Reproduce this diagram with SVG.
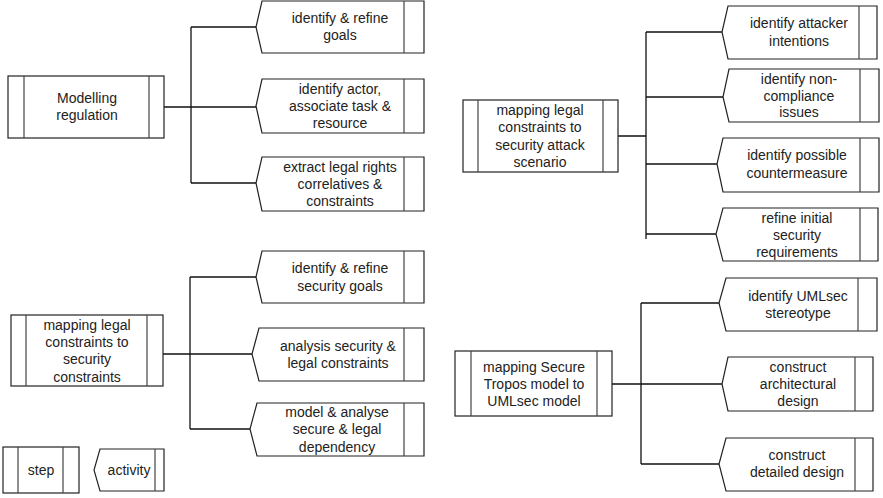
<svg xmlns="http://www.w3.org/2000/svg" width="883" height="498" viewBox="0 0 883 498">
<style>
.box{fill:#fff;stroke:#222;stroke-width:1.2}
.in{stroke:#444;stroke-width:1.2;fill:none}
.con{stroke:#111;stroke-width:1.3;fill:none}
text{font-family:"Liberation Sans",Arial,sans-serif;font-size:14px;fill:#222;text-anchor:middle}
</style>
<rect width="883" height="498" fill="#fff"/>
<g id="connectors">
<path class="con" d="M164,107H256M191,27V183M191,27H256M191,183H256"/>
<path class="con" d="M618,136H646M646,32V239M646,32H723M646,97H723M646,164H717M646,234H716"/>
<path class="con" d="M160,354H252M190,277V429M190,277H256M190,429H250"/>
<path class="con" d="M612,384H722M641,303V464M641,303H719M641,464H719"/>
</g>
<g id="step1"><rect class="box" x="8" y="76" width="156" height="62"/><path class="in" d="M24,76V138M149,76V138"/><text x="87" y="103">Modelling</text><text x="87" y="120">regulation</text></g>
<g id="act1"><path class="box" d="M262,1H424V53H262L256,27Z"/><path class="in" d="M404,1V53"/><text x="340" y="23">identify &amp; refine</text><text x="340" y="40">goals</text></g>
<g id="act2"><path class="box" d="M262,79H424V133H262L256,106Z"/><path class="in" d="M404,79V133"/><text x="340" y="94">identify actor,</text><text x="340" y="111">associate task &amp;</text><text x="340" y="128">resource</text></g>
<g id="act3"><path class="box" d="M262,157H424V211H262L256,183Z"/><path class="in" d="M404,157V211"/><text x="340" y="172">extract legal rights</text><text x="340" y="189">correlatives &amp;</text><text x="340" y="206">constraints</text></g>

<g id="step2"><rect class="box" x="463" y="100" width="155" height="72"/><path class="in" d="M478,100V172M603,100V172"/><text x="540" y="115">mapping legal</text><text x="540" y="132">constraints to</text><text x="540" y="150">security attack</text><text x="540" y="167">scenario</text></g>
<g id="act4"><path class="box" d="M728,6H877V59H728L722,32Z"/><path class="in" d="M859,6V59"/><text x="799" y="28">identify attacker</text><text x="799" y="46">intentions</text></g>
<g id="act5"><path class="box" d="M729,69H879V122H729L723,97Z"/><path class="in" d="M860,69V122"/><text x="799" y="84">identify non-</text><text x="799" y="101">compliance</text><text x="799" y="117">issues</text></g>
<g id="act6"><path class="box" d="M723,138H879V192H723L717,164Z"/><path class="in" d="M860,138V192"/><text x="797" y="160">identify possible</text><text x="797" y="178">countermeasure</text></g>
<g id="act7"><path class="box" d="M723,208H878V261H723L716,234Z"/><path class="in" d="M860,208V261"/><text x="797" y="223">refine initial</text><text x="797" y="240">security</text><text x="797" y="257">requirements</text></g>

<g id="step3"><rect class="box" x="11" y="315" width="152" height="71"/><path class="in" d="M26,315V386M147,315V386"/><text x="87" y="330">mapping legal</text><text x="87" y="347">constraints to</text><text x="87" y="364">security</text><text x="87" y="382">constraints</text></g>
<g id="act8"><path class="box" d="M262,251H424V303H262L256,277Z"/><path class="in" d="M404,251V303"/><text x="340" y="273">identify &amp; refine</text><text x="340" y="291">security goals</text></g>
<g id="act9"><path class="box" d="M259,328H424V381H259L252,354Z"/><path class="in" d="M404,328V381"/><text x="338" y="351">analysis security &amp;</text><text x="338" y="368">legal constraints</text></g>
<g id="act10"><path class="box" d="M257,403H424V456H257L250,429Z"/><path class="in" d="M404,403V456"/><text x="337" y="417">model &amp; analyse</text><text x="337" y="434">secure &amp; legal</text><text x="337" y="452">dependency</text></g>

<g id="step4"><rect class="box" x="455" y="351" width="157" height="65"/><path class="in" d="M471,351V416M597,351V416"/><text x="534" y="372">mapping Secure</text><text x="534" y="389">Tropos model to</text><text x="534" y="406">UMLsec model</text></g>
<g id="act11"><path class="box" d="M726,278H877V331H726L719,303Z"/><path class="in" d="M858,278V331"/><text x="798" y="301">identify UMLsec</text><text x="798" y="318">stereotype</text></g>
<g id="act12"><path class="box" d="M728,357H873V411H728L722,384Z"/><path class="in" d="M855,357V411"/><text x="798" y="372">construct</text><text x="798" y="389">architectural</text><text x="798" y="406">design</text></g>
<g id="act13"><path class="box" d="M726,438H873V491H726L719,464Z"/><path class="in" d="M855,438V491"/><text x="797" y="460">construct</text><text x="797" y="477">detailed design</text></g>

<g id="legend-step"><rect class="box" x="3" y="447" width="76" height="46"/><path class="in" d="M18,447V493M63,447V493"/><text x="41" y="475">step</text></g>
<g id="legend-activity"><path class="box" d="M100,449H164V491H100L94,470Z"/><path class="in" d="M155,449V491"/><text x="129" y="475">activity</text></g>
</svg>
